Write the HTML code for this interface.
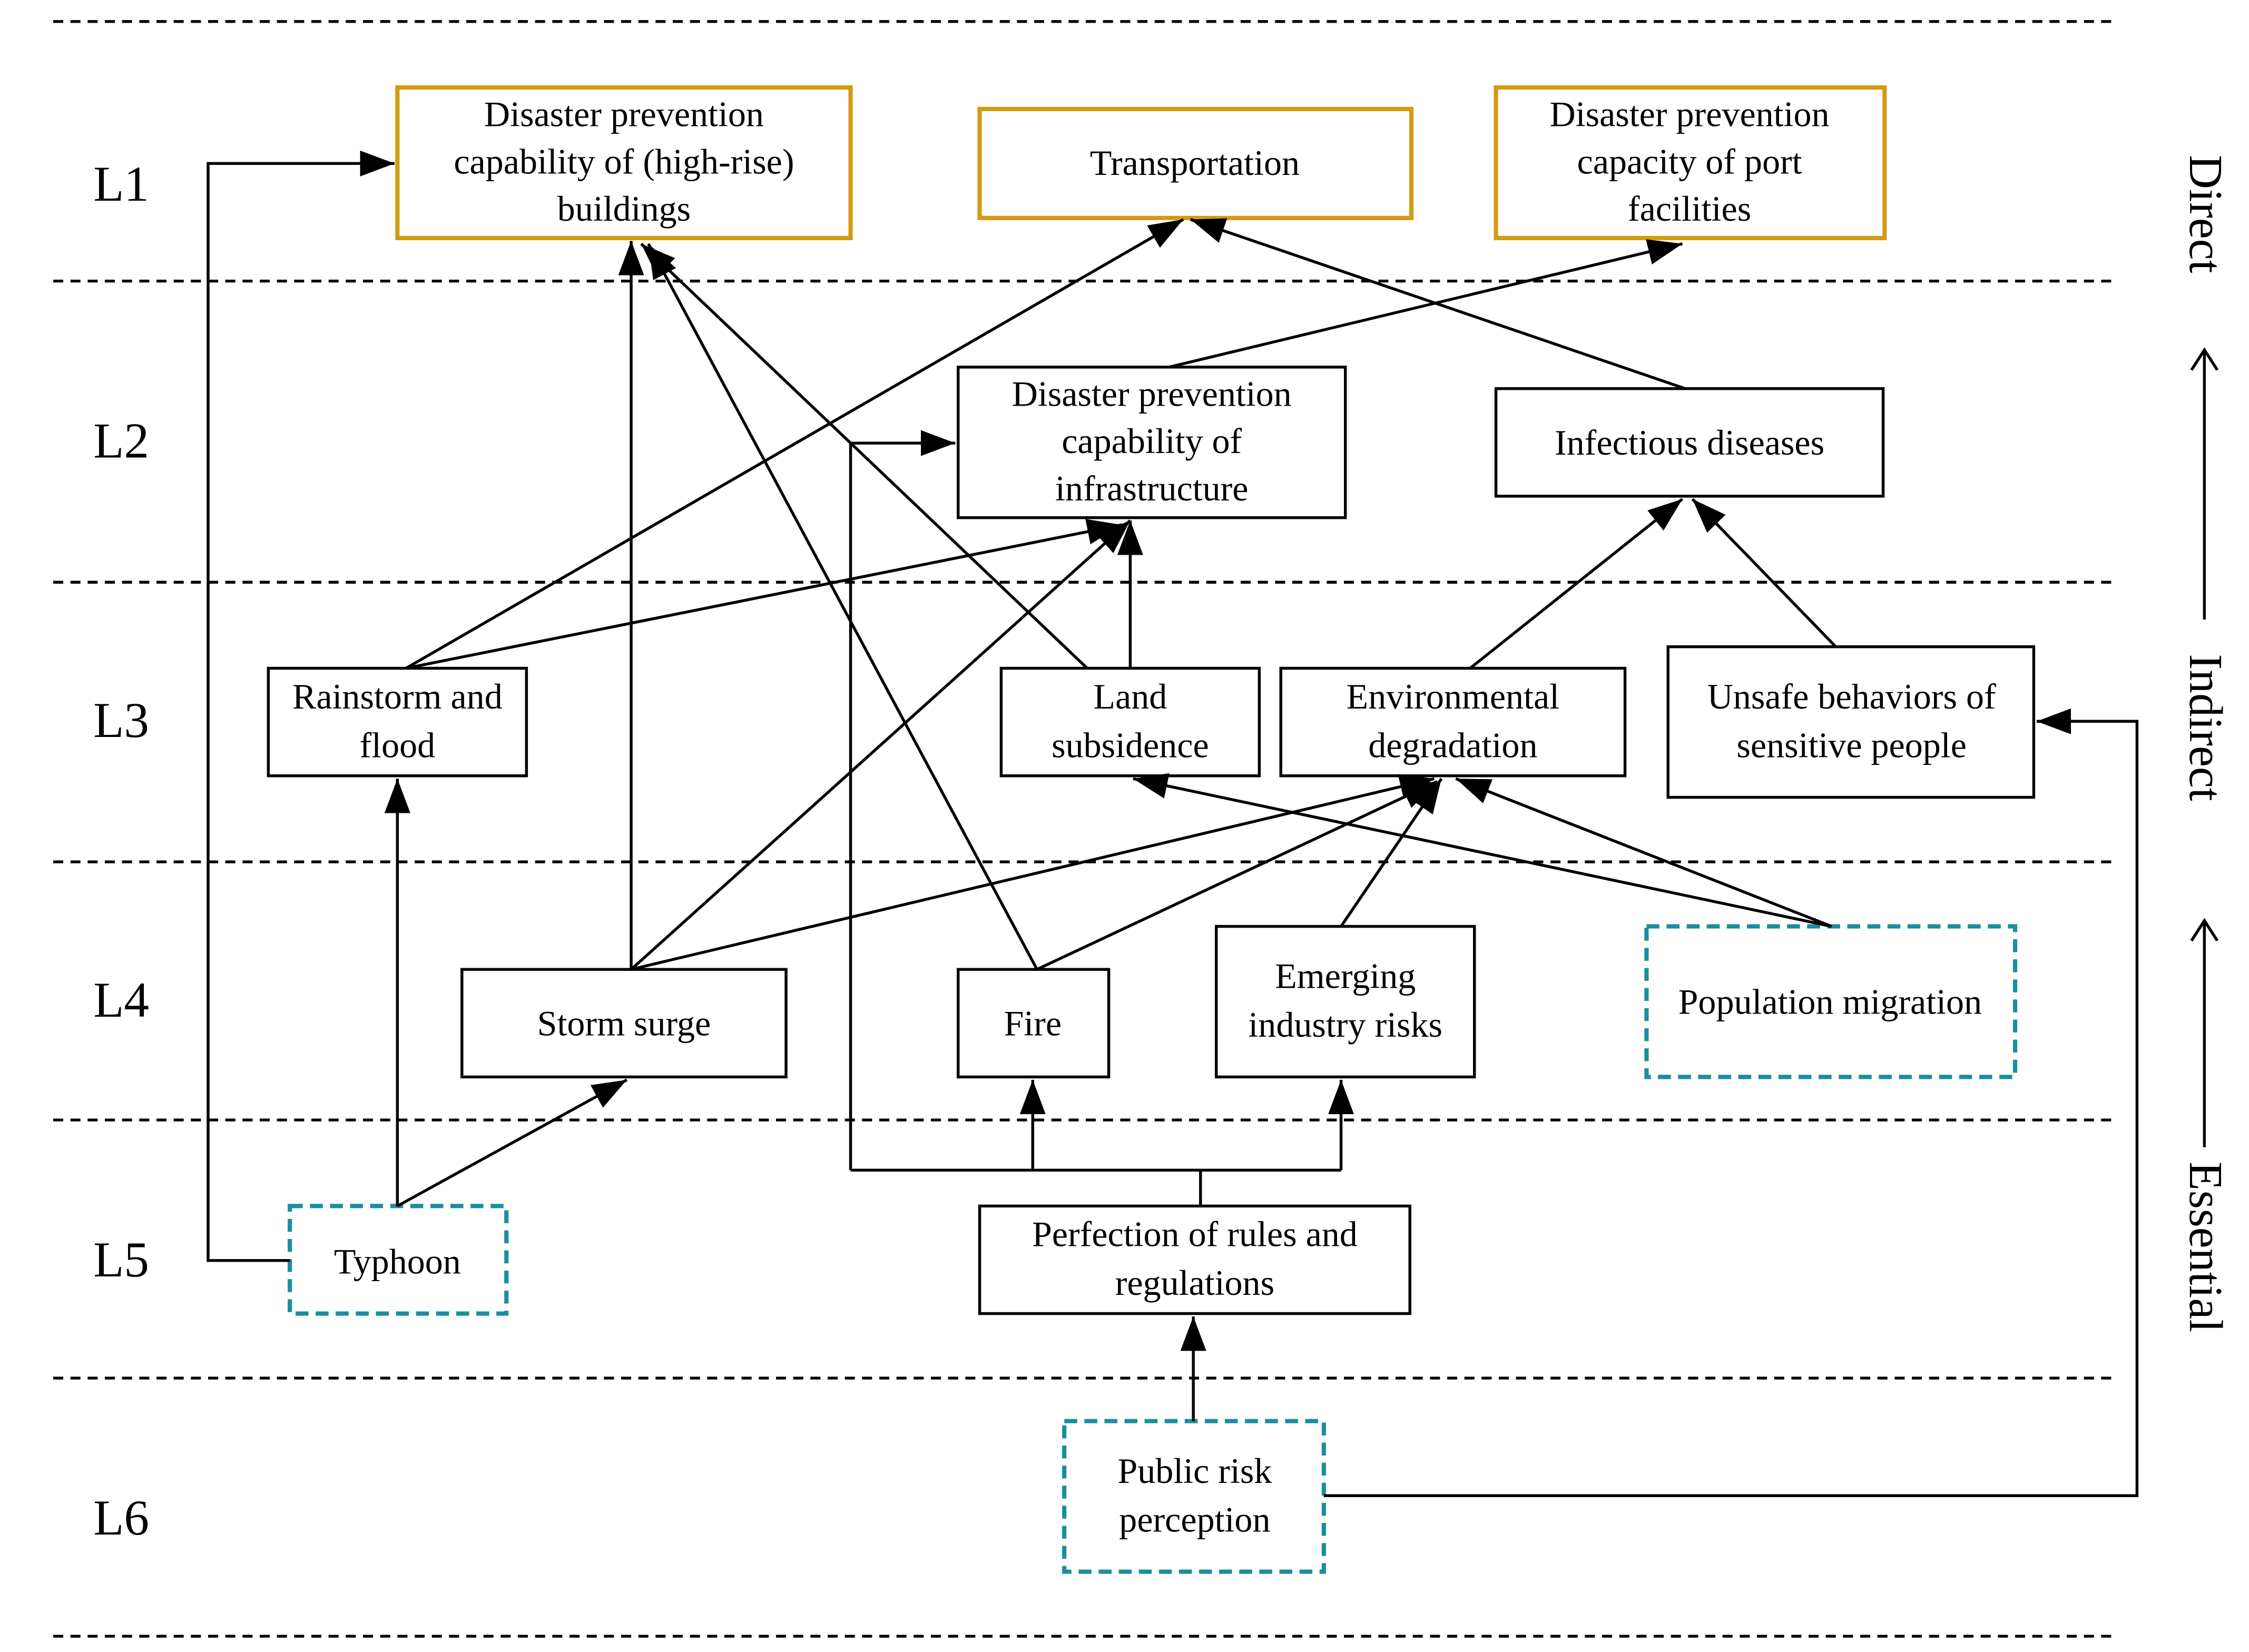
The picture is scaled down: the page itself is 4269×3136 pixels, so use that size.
<!DOCTYPE html>
<html><head><meta charset="utf-8"><style>html,body{margin:0;padding:0;background:#fff}svg{display:block}svg text{font-family:"Liberation Serif","DejaVu Serif",serif}</style></head><body>
<svg width="4269" height="3136" viewBox="0 0 1568 1152" xmlns="http://www.w3.org/2000/svg">
<defs><marker id="b" viewBox="0 0 10 10" refX="10" refY="5" markerWidth="24" markerHeight="18" markerUnits="userSpaceOnUse" orient="auto" preserveAspectRatio="none"><path d="M0,0L10,5L0,10z" fill="#000"/></marker></defs>
<g stroke="#000" stroke-width="2" stroke-dasharray="7,5">
<line x1="37" y1="15" x2="1475" y2="15"/><line x1="37" y1="196" x2="1475" y2="196"/><line x1="37" y1="406" x2="1475" y2="406"/><line x1="37" y1="601" x2="1475" y2="601"/><line x1="37" y1="781" x2="1475" y2="781"/><line x1="37" y1="961" x2="1475" y2="961"/><line x1="37" y1="1141" x2="1475" y2="1141"/></g>
<g font-size="35" fill="#000"><text x="65" y="140">L1</text><text x="65" y="319">L2</text><text x="65" y="514">L3</text><text x="65" y="709">L4</text><text x="65" y="890">L5</text><text x="65" y="1070">L6</text></g>
<g font-size="33" fill="#000"><text transform="translate(1527,108) rotate(90)">Direct</text><text transform="translate(1527,456) rotate(90)">Indirect</text><text transform="translate(1527,810) rotate(90)">Essential</text></g>
<g stroke="#000" stroke-width="2" fill="none"><path d="M1537,432V246M1528,258L1537,244L1546,258"/><path d="M1537,800V642M1528,656L1537,642L1546,656"/></g>
<g fill="#fff" stroke-width="3" stroke="#D39B12"><rect x="277" y="61" width="316" height="105"/><rect x="683" y="76" width="301" height="76"/><rect x="1043" y="61" width="271" height="105"/></g>
<g fill="#fff" stroke-width="2" stroke="#000"><rect x="668" y="256" width="270" height="105"/><rect x="1043" y="271" width="270" height="75"/><rect x="187" y="466" width="180" height="75"/><rect x="698" y="466" width="180" height="75"/><rect x="893" y="466" width="240" height="75"/><rect x="1163" y="451" width="255" height="105"/><rect x="322" y="676" width="226" height="75"/><rect x="668" y="676" width="105" height="75"/><rect x="848" y="646" width="180" height="105"/><rect x="683" y="841" width="300" height="75"/></g>
<g fill="#fff" stroke-width="3" stroke="#1A8EA0" stroke-dasharray="9,5"><rect x="1148" y="646" width="257" height="105"/><rect x="202" y="841" width="151" height="75"/><rect x="742" y="991" width="181" height="105"/></g>
<g font-size="25" fill="#000" text-anchor="middle">
<text x="435" y="88">Disaster prevention</text><text x="435" y="121">capability of (high-rise)</text><text x="435" y="154">buildings</text>
<text x="833" y="122">Transportation</text>
<text x="1178" y="88">Disaster prevention</text><text x="1178" y="121">capacity of port</text><text x="1178" y="154">facilities</text>
<text x="803" y="283">Disaster prevention</text><text x="803" y="316">capability of</text><text x="803" y="349">infrastructure</text>
<text x="1178" y="317">Infectious diseases</text>
<text x="277" y="494">Rainstorm and</text><text x="277" y="528">flood</text>
<text x="788" y="494">Land</text><text x="788" y="528">subsidence</text>
<text x="1013" y="494">Environmental</text><text x="1013" y="528">degradation</text>
<text x="1291" y="494">Unsafe behaviors of</text><text x="1291" y="528">sensitive people</text>
<text x="435" y="722">Storm surge</text><text x="720" y="722">Fire</text>
<text x="938" y="689">Emerging</text><text x="938" y="723">industry risks</text>
<text x="1276" y="707">Population migration</text>
<text x="277" y="888">Typhoon</text>
<text x="833" y="869">Perfection of rules and</text><text x="833" y="903">regulations</text>
<text x="833" y="1034">Public risk</text><text x="833" y="1068">perception</text></g>
<g stroke="#000" stroke-width="2" fill="none" marker-end="url(#b)">
<path d="M202,879H145V114H275"/><path d="M277,841V543"/><path d="M277,841L437,753"/>
<path d="M440,676V168"/><path d="M440,676L788,363"/><path d="M440,676L1000,543"/>
<path d="M283,466L825,153"/><path d="M283,466L782,366"/>
<path d="M788,466V363"/><path d="M758,466L447,170"/><path d="M723,676L452,170"/>
<path d="M723,676L1002,545"/><path d="M935,646L1005,543"/>
<path d="M1277,646L790,543"/><path d="M1277,646L1015,543"/>
<path d="M1025,466L1173,348"/><path d="M1280,451L1180,348"/>
<path d="M1175,271L830,153"/><path d="M815,256L1173,170"/>
<path d="M593,816V309H666"/><path d="M720,816V753"/><path d="M935,816V753"/>
<path d="M832,991V918"/><path d="M923,1043H1490V503H1420"/></g>
<path d="M837,841V816M593,816H935" stroke="#000" stroke-width="2"/>
</svg></body></html>
